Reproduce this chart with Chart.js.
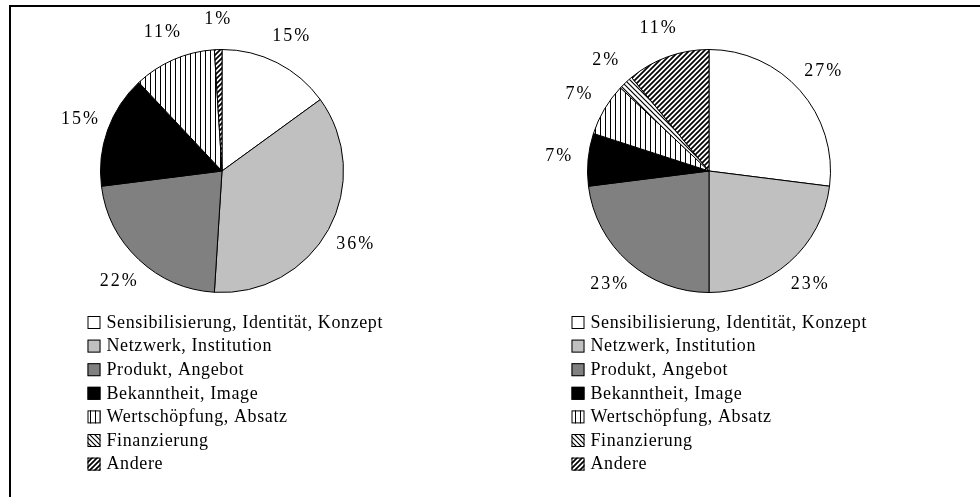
<!DOCTYPE html>
<html>
<head>
<meta charset="utf-8">
<script src="https://cdn.jsdelivr.net/npm/chart.js@4.4.1/dist/chart.umd.min.js"></script>
<style>
  html, body { margin: 0; padding: 0; background: #fff; }
  #wrap { position: relative; width: 980px; height: 497px; overflow: hidden; }
  #frame { position: absolute; left: 9px; top: 5px; width: 990px; height: 500px;
           border-left: 2px solid #000; border-top: 2px solid #000; }
  canvas { position: absolute; top: 0; }
</style>
</head>
<body>
<div id="wrap">
  <div id="frame"></div>
  <canvas id="pie_left" width="490" height="497" style="left:0"></canvas>
  <canvas id="pie_right" width="490" height="497" style="left:490px"></canvas>
</div>
<script>
var categories = ['Sensibilisierung, Identität, Konzept', 'Netzwerk, Institution',
  'Produkt, Angebot', 'Bekanntheit, Image', 'Wertschöpfung, Absatz',
  'Finanzierung', 'Andere'];

var leftValues = [15, 36, 22, 15, 11, 0, 1];
var rightValues = [27, 23, 23, 7, 7, 2, 11];

const FONT = '18px "Liberation Serif", "Times New Roman", serif';

function makePattern(kind) {
  let c = document.createElement('canvas');
  let ctx = c.getContext('2d');
  if (kind == 'vertical') {
    c.width = 5; c.height = 5;
    ctx.fillStyle = '#fff';
    ctx.fillRect(0, 0, 5, 5);
    ctx.fillStyle = '#000';
    ctx.fillRect(0, 0, 1, 5);
  } else if (kind == 'back') {
    c.width = 5; c.height = 5;
    ctx.fillStyle = '#fff';
    ctx.fillRect(0, 0, 5, 5);
    ctx.strokeStyle = '#000';
    ctx.lineWidth = 1.2;
    ctx.beginPath();
    ctx.moveTo(-1, -1); ctx.lineTo(6, 6);
    ctx.moveTo(-1, 4); ctx.lineTo(1, 6);
    ctx.moveTo(4, -1); ctx.lineTo(6, 1);
    ctx.stroke();
  } else {
    c.width = 5; c.height = 5;
    ctx.fillStyle = '#fff';
    ctx.fillRect(0, 0, 5, 5);
    ctx.strokeStyle = '#000';
    ctx.lineWidth = 1.7;
    ctx.beginPath();
    ctx.moveTo(-1, 6); ctx.lineTo(6, -1);
    ctx.moveTo(-1, 1); ctx.lineTo(1, -1);
    ctx.moveTo(4, 6); ctx.lineTo(6, 4);
    ctx.stroke();
  }
  return ctx.createPattern(c, 'repeat');
}

function sliceColors() {
  return ['#ffffff', '#c0c0c0', '#808080', '#000000',
    makePattern('vertical'), makePattern('back'), makePattern('forward')];
}

// percentage labels outside the slices
const percentLabels = {
  id: 'percentLabels',
  afterDatasetsDraw(chart) {
    const ctx = chart.ctx;
    const meta = chart.getDatasetMeta(0);
    const values = chart.data.datasets[0].data;
    ctx.save();
    ctx.font = FONT;
    ctx.letterSpacing = '2px';
    ctx.fillStyle = '#000';
    ctx.textAlign = 'center';
    ctx.textBaseline = 'middle';
    meta.data.forEach((arc, i) => {
      if (!values[i]) return;
      const p = arc.getProps(['x', 'y', 'startAngle', 'endAngle', 'outerRadius'], true);
      const mid = (p.startAngle + p.endAngle) / 2;
      const r = p.outerRadius + 30;
      ctx.fillText(values[i] + '%', p.x + Math.cos(mid) * r + 1, p.y + Math.sin(mid) * r);
    });
    ctx.restore();
  }
};

// one legend entry per line under the pie
const columnLegend = {
  id: 'columnLegend',
  afterDraw(chart, args, opts) {
    const ctx = chart.ctx;
    const colors = chart.data.datasets[0].backgroundColor;
    ctx.save();
    ctx.font = FONT;
    ctx.letterSpacing = '0.6px';
    ctx.textBaseline = 'middle';
    chart.data.labels.forEach((label, i) => {
      const y = opts.top + i * 23.6;
      ctx.fillStyle = colors[i];
      ctx.fillRect(opts.left, y - 6, 13, 13);
      ctx.strokeStyle = '#000';
      ctx.lineWidth = 1;
      ctx.strokeRect(opts.left + 0.5, y - 5.5, 12, 12);
      ctx.fillStyle = '#000';
      ctx.fillText(label, opts.left + 19, y + 1);
    });
    ctx.restore();
  }
};

function makePie(id, values, padding, legendLeft) {
  return new Chart(id, {
    type: 'pie',
    data: {
      labels: categories,
      datasets: [{
        data: values,
        backgroundColor: sliceColors(),
        borderColor: '#000',
        borderWidth: 1
      }]
    },
    options: {
      responsive: false,
      animation: false,
      layout: { padding: padding },
      plugins: {
        legend: { display: false },
        tooltip: { enabled: false },
        columnLegend: { left: legendLeft, top: 322 }
      }
    },
    plugins: [percentLabels, columnLegend]
  });
}

window.onload = () => {
  makePie('pie_left', leftValues, { left: 100, right: 146, top: 49, bottom: 204 }, 87.5);
  makePie('pie_right', rightValues, { left: 97, right: 149, top: 49, bottom: 204 }, 81.5);
};
</script>
</body>
</html>
